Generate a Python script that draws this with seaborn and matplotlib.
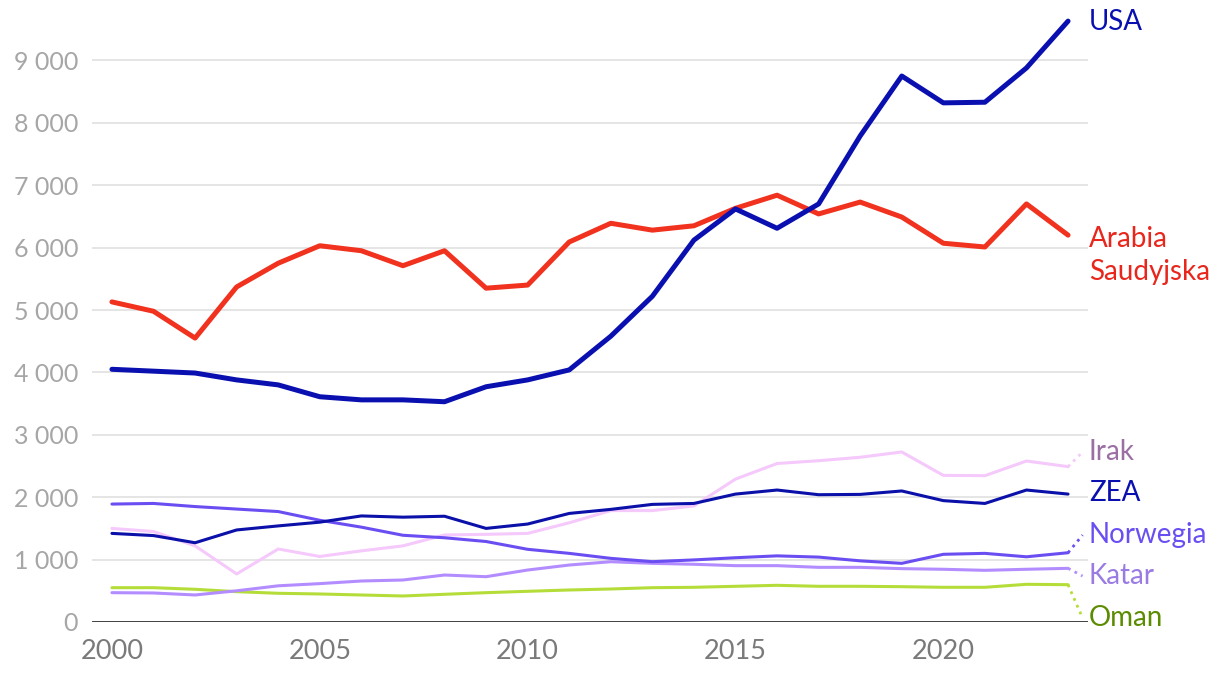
import numpy as np
import pandas as pd
import seaborn as sns
from matplotlib import pyplot as plt
from matplotlib.ticker import FuncFormatter

sns.set_style("white")
plt.rcParams["font.family"] = ["Lato", "DejaVu Sans"]

years = list(range(2000, 2024))

usa = [4050, 4020, 3990, 3880, 3800, 3610, 3560, 3560, 3530, 3770, 3880, 4040,
       4580, 5220, 6120, 6620, 6310, 6700, 7790, 8750, 8320, 8330, 8880, 9630]
saudi = [5130, 4980, 4550, 5370, 5750, 6030, 5950, 5710, 5950, 5350, 5400, 6090,
         6390, 6280, 6350, 6630, 6840, 6540, 6730, 6490, 6070, 6010, 6700, 6200]
irak = [1500, 1450, 1220, 770, 1170, 1050, 1140, 1220, 1395, 1405, 1420, 1590,
        1785, 1785, 1860, 2290, 2540, 2585, 2640, 2725, 2350, 2345, 2580, 2490]
zea = [1420, 1385, 1270, 1475, 1540, 1600, 1700, 1680, 1695, 1500, 1570, 1740,
       1805, 1885, 1900, 2050, 2115, 2040, 2045, 2100, 1945, 1900, 2115, 2050]
norwegia = [1890, 1900, 1850, 1810, 1770, 1630, 1520, 1390, 1350, 1290, 1165, 1100,
            1020, 967, 995, 1030, 1060, 1040, 980, 940, 1085, 1100, 1045, 1110]
katar = [470, 465, 433, 500, 580, 615, 657, 673, 753, 726, 833, 913,
         966, 940, 925, 903, 903, 876, 876, 855, 845, 828, 845, 860]
oman = [550, 550, 524, 486, 460, 449, 433, 417, 444, 470, 492, 513,
        529, 550, 556, 572, 588, 572, 572, 566, 556, 556, 604, 598]

# name, values, line colour, label colour, linewidth, label y, leader?
series = [
    ("Oman", oman, "#b5dd3a", "#5b8c00", 2.2, 64, True),
    ("Katar", katar, "#b38dff", "#9a7be3", 2.2, 737, True),
    ("Irak", irak, "#f5c9fb", "#9b6fa3", 2.2, 2725, True),
    ("Norwegia", norwegia, "#6b4ef2", "#6b4ef2", 2.2, 1394, True),
    ("ZEA", zea, "#0a10a8", "#0a10b0", 2.2, 2067, False),
    ("Arabia\nSaudyjska", saudi, "#f0321f", "#e8261c", 3.6, 5875, False),
    ("USA", usa, "#0a10b0", "#0a10b0", 3.6, 9615, False),
]

df = pd.DataFrame({"rok": years})
for name, vals, *_ in series:
    df[name] = vals

fig = plt.figure(figsize=(12.2, 6.78), dpi=100)
ax = fig.add_axes([0.0754, 0.0826, 0.8164, 0.9019])

for name, vals, col, lcol, lw, ly, leader in series:
    sns.lineplot(data=df, x="rok", y=name, color=col, linewidth=lw, ax=ax,
                 solid_capstyle="round", solid_joinstyle="round", zorder=3)
    if leader:
        ax.plot([years[-1], 2023.35], [vals[-1], ly], color=col, linestyle=":",
                linewidth=2, clip_on=False, zorder=3)
    ax.text(2023.5, ly, name, color=lcol, fontsize=20, ha="left", va="center",
            linespacing=1.32)

ax.set_xlim(1999.52, 2023.48)
ax.set_ylim(0, 9800)
ax.set_yticks(range(0, 10000, 1000))
ax.set_xticks([2000, 2005, 2010, 2015, 2020])
ax.yaxis.set_major_formatter(FuncFormatter(lambda v, p: f"{v:,.0f}".replace(",", " ")))
ax.grid(axis="y", color="#e5e5e5", linewidth=1.4)
ax.grid(axis="x", visible=False)
ax.axhline(0, color="#333333", linewidth=2, zorder=4)
sns.despine(ax=ax, left=True, bottom=True, top=True, right=True)
ax.tick_params(axis="y", length=0, pad=10, labelsize=18, labelcolor="#a6a6a6")
ax.tick_params(axis="x", length=0, pad=12, labelsize=19.5, labelcolor="#7a7a7a")
ax.set_xlabel("")
ax.set_ylabel("")

fig.savefig("out.png", dpi=100)
